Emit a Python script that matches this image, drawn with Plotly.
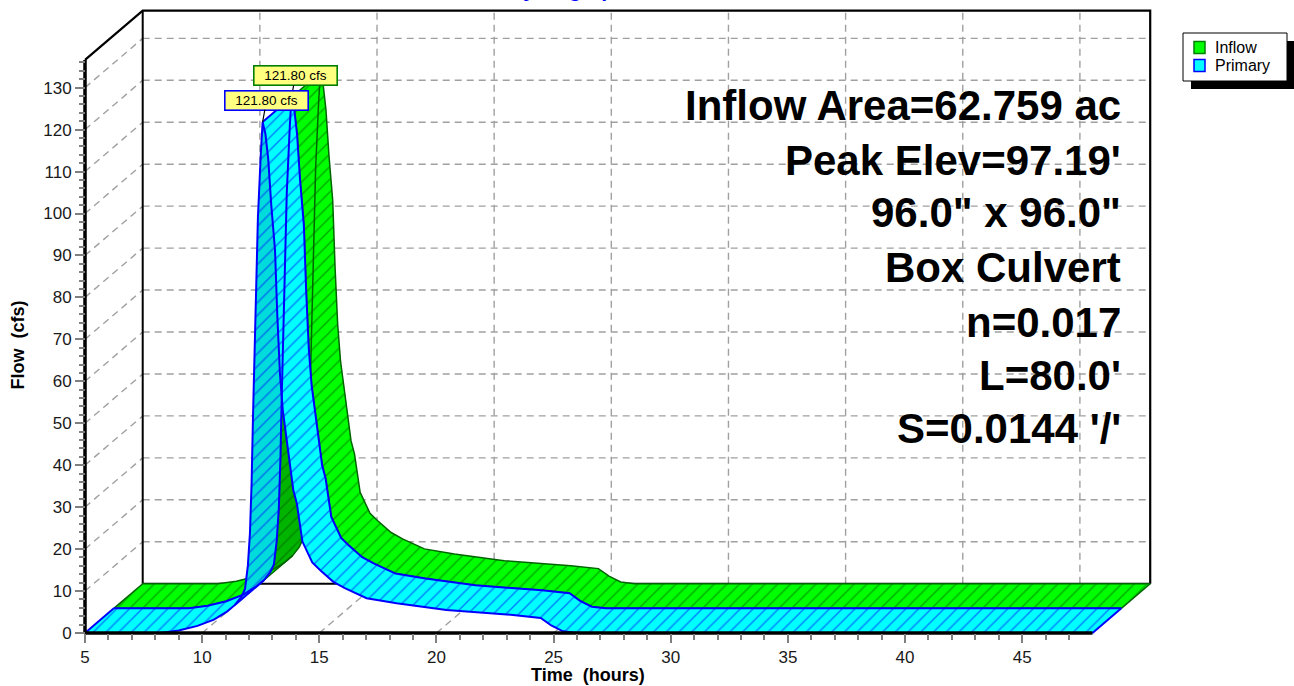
import plotly.graph_objects as go

# ---------------- data ----------------
time_hr = [5.0, 7.5, 8.2, 9.0, 9.8, 10.5, 11.06, 11.4, 11.68, 11.83, 11.95, 12.04,
           12.11, 12.17, 12.25, 12.38, 12.51, 12.58, 12.7, 12.82, 12.95, 13.11,
           13.21, 13.32, 13.44, 13.68, 13.89, 14.04, 14.28, 14.7, 15.03, 15.6,
           16.09, 17.02, 18.3, 20.43, 21.8, 23.27, 24.45, 24.9, 25.4, 26.0, 48.0]
primary_cfs = [0.0, 0.0, 0.0, 0.6, 1.7, 3.2, 5.1, 6.7, 8.7, 10.5, 16.0, 23.8,
               35.7, 51.5, 71.5, 99.0, 115.0, 121.8, 119.0, 113.0, 102.0, 91.3,
               75.4, 61.9, 53.2, 43.6, 34.1, 30.9, 21.8, 16.8, 15.0, 12.2,
               10.7, 8.3, 7.1, 5.5, 4.9, 4.3, 3.6, 1.8, 0.4, 0.0, 0.0]
inflow_cfs = [0.0, 0.0, 0.0, 0.6, 1.7, 3.2, 5.1, 6.7, 8.7, 10.5, 16.0, 23.8,
              35.7, 51.5, 71.5, 99.0, 115.0, 121.8, 119.0, 113.0, 102.0, 91.3,
              75.4, 61.9, 53.2, 43.6, 34.1, 30.9, 21.8, 16.8, 15.0, 12.2,
              10.7, 8.3, 7.1, 5.5, 4.9, 4.3, 3.6, 1.8, 0.4, 0.0, 0.0]
series_names = ["Inflow", "Primary"]
x_tick_vals = [5, 10, 15, 20, 25, 30, 35, 40, 45]
x_minor_vals = [t for t in range(6, 48) if t % 5 != 0]
y_tick_vals = [0, 10, 20, 30, 40, 50, 60, 70, 80, 90, 100, 110, 120, 130]
y_minor_vals = [v for v in range(2, 137, 2) if v % 10 != 0]
info_lines = ["Inflow Area=62.759 ac", "Peak Elev=97.19'", "96.0\" x 96.0\"",
              "Box Culvert", "n=0.017", "L=80.0'", "S=0.0144 '/'"]
chart_title = "Hydrograph"
x_title = "Time\u00a0 (hours)"
y_title = "Flow\u00a0 (cfs)"

# ---------------- geometry / style constants ----------------
W, H = 1294, 686
PX_T0, PY_Q0 = 85.0, 633.0          # pixel of (t=5, Q=0)
PX_PER_H, PX_PER_CFS = 23.43, 4.195
T_START, T_END = 5.0, 48.0
WALL_TOP = 136.6
DEPTH_T, DEPTH_Q = 2.463, 11.75      # full 3-D depth offset in data units

x_range = [T_START - PX_T0 / PX_PER_H, T_START + (W - PX_T0) / PX_PER_H]
y_range = [-(H - PY_Q0) / PX_PER_CFS, PY_Q0 / PX_PER_CFS]

FONT = "Arial, 'Liberation Sans', Helvetica, sans-serif"
GRID = dict(color="#a0a0a0", width=1.4, dash="7px,5px")

SERIES_STYLE = {
    "Inflow": dict(top="#00ff00", under="#00b400", hatch="#005a00", edge="#006400",
                   edge_w=1.5, box="#008000"),
    "Primary": dict(top="#00ffff", under="#00dcdc", hatch="#0000ff", edge="#0000ff",
                    edge_w=2, box="#0000ff"),
}

fig = go.Figure()


def add_line(xs, ys, line):
    fig.add_trace(go.Scatter(x=xs, y=ys, mode="lines", line=line,
                             hoverinfo="skip", showlegend=False))


# back wall grid
gx, gy = [], []
for t in x_tick_vals[1:]:
    gx += [t + DEPTH_T, t + DEPTH_T, None]
    gy += [DEPTH_Q, WALL_TOP + DEPTH_Q, None]
for q in y_tick_vals[1:]:
    gx += [T_START + DEPTH_T, T_END + DEPTH_T, None]
    gy += [q + DEPTH_Q, q + DEPTH_Q, None]
# left wall + floor diagonals
for q in y_tick_vals[1:]:
    gx += [T_START, T_START + DEPTH_T, None]
    gy += [q, q + DEPTH_Q, None]
for t in x_tick_vals[1:]:
    gx += [t, t + DEPTH_T, None]
    gy += [0, DEPTH_Q, None]
add_line(gx, gy, GRID)

# frame
add_line([T_START, T_START + DEPTH_T, T_END + DEPTH_T, T_END + DEPTH_T],
         [WALL_TOP, WALL_TOP + DEPTH_Q, WALL_TOP + DEPTH_Q, DEPTH_Q],
         dict(color="black", width=2.2))
add_line([T_START + DEPTH_T, T_START + DEPTH_T, None, T_START + DEPTH_T, T_END + DEPTH_T],
         [WALL_TOP + DEPTH_Q, DEPTH_Q, None, DEPTH_Q, DEPTH_Q],
         dict(color="black", width=2))


def ribbon(t, q, z0, z1, st):
    n = len(t)
    fx = [v + z0 * DEPTH_T for v in t]
    fy = [v + z0 * DEPTH_Q for v in q]
    bx = [v + z1 * DEPTH_T for v in t]
    by = [v + z1 * DEPTH_Q for v in q]
    top_x, top_y, und_x, und_y = [], [], [], []
    facing = []
    for i in range(n - 1):
        dt = t[i + 1] - t[i]
        dq = q[i + 1] - q[i]
        up = dt * DEPTH_Q - dq * DEPTH_T >= 0
        facing.append(up)
        qx = [fx[i], fx[i + 1], bx[i + 1], bx[i], fx[i], None]
        qy = [fy[i], fy[i + 1], by[i + 1], by[i], fy[i], None]
        if up:
            top_x += qx
            top_y += qy
        else:
            und_x += qx
            und_y += qy
    for xs, ys, col in ((und_x, und_y, st["under"]), (top_x, top_y, st["top"])):
        if xs:
            fig.add_trace(go.Scatter(
                x=xs, y=ys, mode="lines", fill="toself", fillcolor=col,
                fillpattern=dict(shape="/", fgcolor=st["hatch"], bgcolor=col,
                                 size=9, solidity=0.16),
                line=dict(width=0, color=col), hoverinfo="skip", showlegend=False))
    ex = fx + [None] + bx + [None]
    ey = fy + [None] + by + [None]
    ribs = [0, n - 1] + [i + 1 for i in range(len(facing) - 1) if facing[i] != facing[i + 1]]
    for i in ribs:
        ex += [fx[i], bx[i], None]
        ey += [fy[i], by[i], None]
    add_line(ex, ey, dict(color=st["edge"], width=st["edge_w"]))
    return fx, fy


# Inflow (rear ribbon) then Primary (front ribbon)
g_fx, g_fy = ribbon(time_hr, inflow_cfs, 0.5, 1.0, SERIES_STYLE["Inflow"])
c_fx, c_fy = ribbon(time_hr, primary_cfs, 0.0, 0.5, SERIES_STYLE["Primary"])

# front axes lines
add_line([T_START, T_START, None, T_START, T_END],
         [WALL_TOP, 0, None, 0, 0], dict(color="black", width=3.5))

annotations = []
# peak labels
ip = primary_cfs.index(max(primary_cfs))
ii = inflow_cfs.index(max(inflow_cfs))
for (px_, py_, val, bcol) in ((g_fx[ii], g_fy[ii], inflow_cfs[ii], SERIES_STYLE["Inflow"]["box"]),
                              (c_fx[ip], c_fy[ip], primary_cfs[ip], SERIES_STYLE["Primary"]["box"])):
    annotations.append(dict(
        x=px_, y=py_, xref="x", yref="y", text=f"{val:.2f} cfs",
        showarrow=True, arrowhead=0, arrowwidth=1.2, arrowcolor="black",
        ax=4, ay=-22, standoff=0, bgcolor="#ffff80", bordercolor=bcol,
        borderwidth=1.6, borderpad=1, width=80, height=16,
        font=dict(family=FONT, size=13.5, color="black")))

# info text block
baselines = [120, 175, 227, 282, 337, 390, 443]
for txt, b in zip(info_lines, baselines):
    annotations.append(dict(
        x=1123 / W, y=1 - (b - 14.5) / H, xref="paper", yref="paper",
        xanchor="right", yanchor="middle", showarrow=False,
        text=f"<b>{txt}</b>", font=dict(family=FONT, size=42, color="black")))

# titles
annotations.append(dict(x=567 / W, y=1 - 3 / H, xref="paper", yref="paper",
                        xanchor="center", yanchor="bottom", showarrow=False,
                        text=f"<b>{chart_title}</b>",
                        font=dict(family=FONT, size=21, color="#0000ff")))
annotations.append(dict(x=588 / W, y=1 - 675 / H, xref="paper", yref="paper",
                        xanchor="center", yanchor="middle", showarrow=False,
                        text=f"<b>{x_title}</b>",
                        font=dict(family=FONT, size=18, color="black")))
annotations.append(dict(x=17.5 / W, y=1 - 345 / H, xref="paper", yref="paper",
                        xanchor="center", yanchor="middle", showarrow=False,
                        textangle=-90, text=f"<b>{y_title}</b>",
                        font=dict(family=FONT, size=18, color="black")))

# legend box (drawn as shapes + text, with the drop shadow of the reference)
def pbox(x0, y0, x1, y1, **kw):
    return dict(type="rect", xref="paper", yref="paper",
                x0=x0 / W, x1=x1 / W, y0=1 - y1 / H, y1=1 - y0 / H, layer="above", **kw)

shapes = [pbox(1191, 41, 1296, 89, fillcolor="black", line=dict(width=0)),
          pbox(1183, 33, 1287, 81, fillcolor="white", line=dict(color="black", width=1))]
legend_rows = [47.5, 65.5]
for name, yc in zip(series_names, legend_rows):
    st = SERIES_STYLE[name]
    shapes.append(pbox(1194, yc - 6, 1205, yc + 6, fillcolor=st["top"],
                       line=dict(color=st["box"], width=1.5)))
    annotations.append(dict(x=1214 / W, y=1 - yc / H, xref="paper", yref="paper",
                            xanchor="left", yanchor="middle", showarrow=False,
                            borderpad=0,
                            text=name, font=dict(family=FONT, size=16, color="black")))

tick_font = dict(family=FONT, size=17, color="#1a1a1a")
fig.update_layout(
    width=W, height=H,
    margin=dict(l=0, r=0, t=0, b=0, pad=0),
    paper_bgcolor="white", plot_bgcolor="white",
    showlegend=False,
    xaxis=dict(range=x_range, anchor="free", position=1 - PY_Q0 / H,
               showgrid=False, zeroline=False, showline=False,
               tickmode="array", tickvals=x_tick_vals, ticks="outside",
               ticklen=9, tickwidth=1.5, tickcolor="#808080", tickfont=tick_font,
               minor=dict(tickmode="array", tickvals=x_minor_vals, ticks="outside",
                          ticklen=6, tickwidth=1.5, tickcolor="#808080"),
               automargin=False, fixedrange=True),
    yaxis=dict(range=y_range, anchor="free", position=PX_T0 / W,
               showgrid=False, zeroline=False, showline=False,
               tickmode="array", tickvals=y_tick_vals, ticks="outside",
               ticklen=10, tickwidth=1.5, tickcolor="#808080", tickfont=tick_font,
               minor=dict(tickmode="array", tickvals=y_minor_vals, ticks="outside",
                          ticklen=6, tickwidth=1.5, tickcolor="#808080"),
               automargin=False, fixedrange=True),
    annotations=annotations,
    shapes=shapes,
)

fig.write_html("out.html", include_plotlyjs=True,
               config={"displayModeBar": False},
               post_script="document.body.style.margin='0';document.body.style.overflow='hidden';")
